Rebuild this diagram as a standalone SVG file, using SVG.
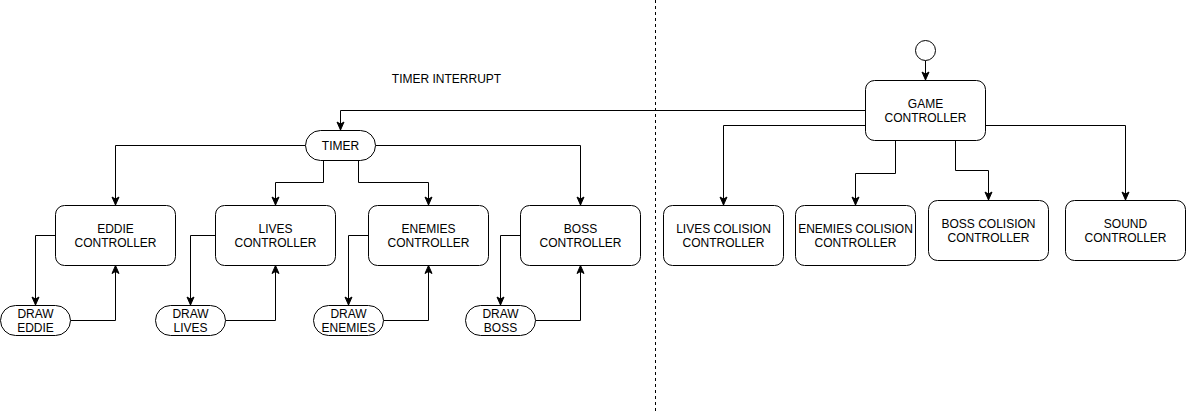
<svg xmlns="http://www.w3.org/2000/svg" width="1186" height="412" viewBox="0 0 1186 412">
<style>
.n{fill:#fff;stroke:#000;stroke-width:1}
.t{font-family:"Liberation Sans",Arial,sans-serif;font-size:12px;fill:#000;text-anchor:middle;dominant-baseline:central}
.c{fill:none;stroke:#000;stroke-width:1}
</style>
<defs>
<marker id="a" markerUnits="userSpaceOnUse" markerWidth="10" markerHeight="10" viewBox="0 0 10 10" refX="9" refY="5" orient="auto">
<path d="M1,1.5 L9,5 L1,8.5 L3,5 Z" fill="#000" stroke="#000" stroke-width="1"/>
</marker>
</defs>
<rect width="1186" height="412" fill="#fff"/>
<line x1="655.5" y1="0" x2="655.5" y2="412" stroke="#000" stroke-width="1" stroke-dasharray="3 3"/>
<text class="t" x="446.5" y="79">TIMER INTERRUPT</text>
<g id="connectors">
<path class="c" marker-end="url(#a)" d="M925.5,60.5 L925.5,80"/>
<path class="c" marker-end="url(#a)" d="M865.5,110.5 L340.5,110.5 L340.5,130"/>
<path class="c" marker-end="url(#a)" d="M865.5,125.5 L723.5,125.5 L723.5,205"/>
<path class="c" marker-end="url(#a)" d="M895.5,140 L895.5,173.5 L855.5,173.5 L855.5,205"/>
<path class="c" marker-end="url(#a)" d="M955.5,140 L955.5,170.5 L988.5,170.5 L988.5,200"/>
<path class="c" marker-end="url(#a)" d="M985.5,125.5 L1125.5,125.5 L1125.5,200"/>
<path class="c" marker-end="url(#a)" d="M305.5,145.5 L115.5,145.5 L115.5,205"/>
<path class="c" marker-end="url(#a)" d="M323.5,160 L323.5,182.5 L275.5,182.5 L275.5,205"/>
<path class="c" marker-end="url(#a)" d="M358.5,160 L358.5,182.5 L428.5,182.5 L428.5,205"/>
<path class="c" marker-end="url(#a)" d="M375.5,145.5 L580.5,145.5 L580.5,205"/>
<path class="c" marker-end="url(#a)" d="M55.5,235.5 L35.5,235.5 L35.5,305"/>
<path class="c" marker-end="url(#a)" d="M70.5,320.5 L115.5,320.5 L115.5,265.5"/>
<path class="c" marker-end="url(#a)" d="M215.5,235.5 L190.5,235.5 L190.5,305"/>
<path class="c" marker-end="url(#a)" d="M225.5,320.5 L275.5,320.5 L275.5,265.5"/>
<path class="c" marker-end="url(#a)" d="M368.5,235.5 L348.5,235.5 L348.5,305"/>
<path class="c" marker-end="url(#a)" d="M383.5,320.5 L428.5,320.5 L428.5,265.5"/>
<path class="c" marker-end="url(#a)" d="M520.5,235.5 L500.5,235.5 L500.5,305"/>
<path class="c" marker-end="url(#a)" d="M535.5,320.5 L580.5,320.5 L580.5,265.5"/>
</g>
<g id="start"><circle class="n" cx="925.5" cy="50.5" r="10"/></g>
<g id="game"><rect class="n" x="865.5" y="80.5" width="120" height="60" rx="9"/><text class="t" x="925.5" y="103.5">GAME</text><text class="t" x="925.5" y="117.5">CONTROLLER</text></g>
<g id="timer"><rect class="n" x="305.5" y="130.5" width="70" height="30" rx="15"/><text class="t" x="340.5" y="145.5">TIMER</text></g>
<g id="eddie"><rect class="n" x="55.5" y="205.5" width="120" height="60" rx="9"/><text class="t" x="115.5" y="228.5">EDDIE</text><text class="t" x="115.5" y="242.5">CONTROLLER</text></g>
<g id="lives"><rect class="n" x="215.5" y="205.5" width="120" height="60" rx="9"/><text class="t" x="275.5" y="228.5">LIVES</text><text class="t" x="275.5" y="242.5">CONTROLLER</text></g>
<g id="enemies"><rect class="n" x="368.5" y="205.5" width="120" height="60" rx="9"/><text class="t" x="428.5" y="228.5">ENEMIES</text><text class="t" x="428.5" y="242.5">CONTROLLER</text></g>
<g id="boss"><rect class="n" x="520.5" y="205.5" width="120" height="60" rx="9"/><text class="t" x="580.5" y="228.5">BOSS</text><text class="t" x="580.5" y="242.5">CONTROLLER</text></g>
<g id="draweddie"><rect class="n" x="0.5" y="305.5" width="70" height="30" rx="15"/><text class="t" x="35.5" y="313.5">DRAW</text><text class="t" x="35.5" y="327.5">EDDIE</text></g>
<g id="drawlives"><rect class="n" x="155.5" y="305.5" width="70" height="30" rx="15"/><text class="t" x="190.5" y="313.5">DRAW</text><text class="t" x="190.5" y="327.5">LIVES</text></g>
<g id="drawenemies"><rect class="n" x="313.5" y="305.5" width="70" height="30" rx="15"/><text class="t" x="348.5" y="313.5">DRAW</text><text class="t" x="348.5" y="327.5">ENEMIES</text></g>
<g id="drawboss"><rect class="n" x="465.5" y="305.5" width="70" height="30" rx="15"/><text class="t" x="500.5" y="313.5">DRAW</text><text class="t" x="500.5" y="327.5">BOSS</text></g>
<g id="livescol"><rect class="n" x="663.5" y="205.5" width="120" height="60" rx="9"/><text class="t" x="723.5" y="228.5">LIVES COLISION</text><text class="t" x="723.5" y="242.5">CONTROLLER</text></g>
<g id="enemiescol"><rect class="n" x="795.5" y="205.5" width="120" height="60" rx="9"/><text class="t" x="855.5" y="228.5">ENEMIES COLISION</text><text class="t" x="855.5" y="242.5">CONTROLLER</text></g>
<g id="bosscol"><rect class="n" x="928.5" y="200.5" width="120" height="60" rx="9"/><text class="t" x="988.5" y="223.5">BOSS COLISION</text><text class="t" x="988.5" y="237.5">CONTROLLER</text></g>
<g id="sound"><rect class="n" x="1065.5" y="200.5" width="120" height="60" rx="9"/><text class="t" x="1125.5" y="223.5">SOUND</text><text class="t" x="1125.5" y="237.5">CONTROLLER</text></g>
</svg>
